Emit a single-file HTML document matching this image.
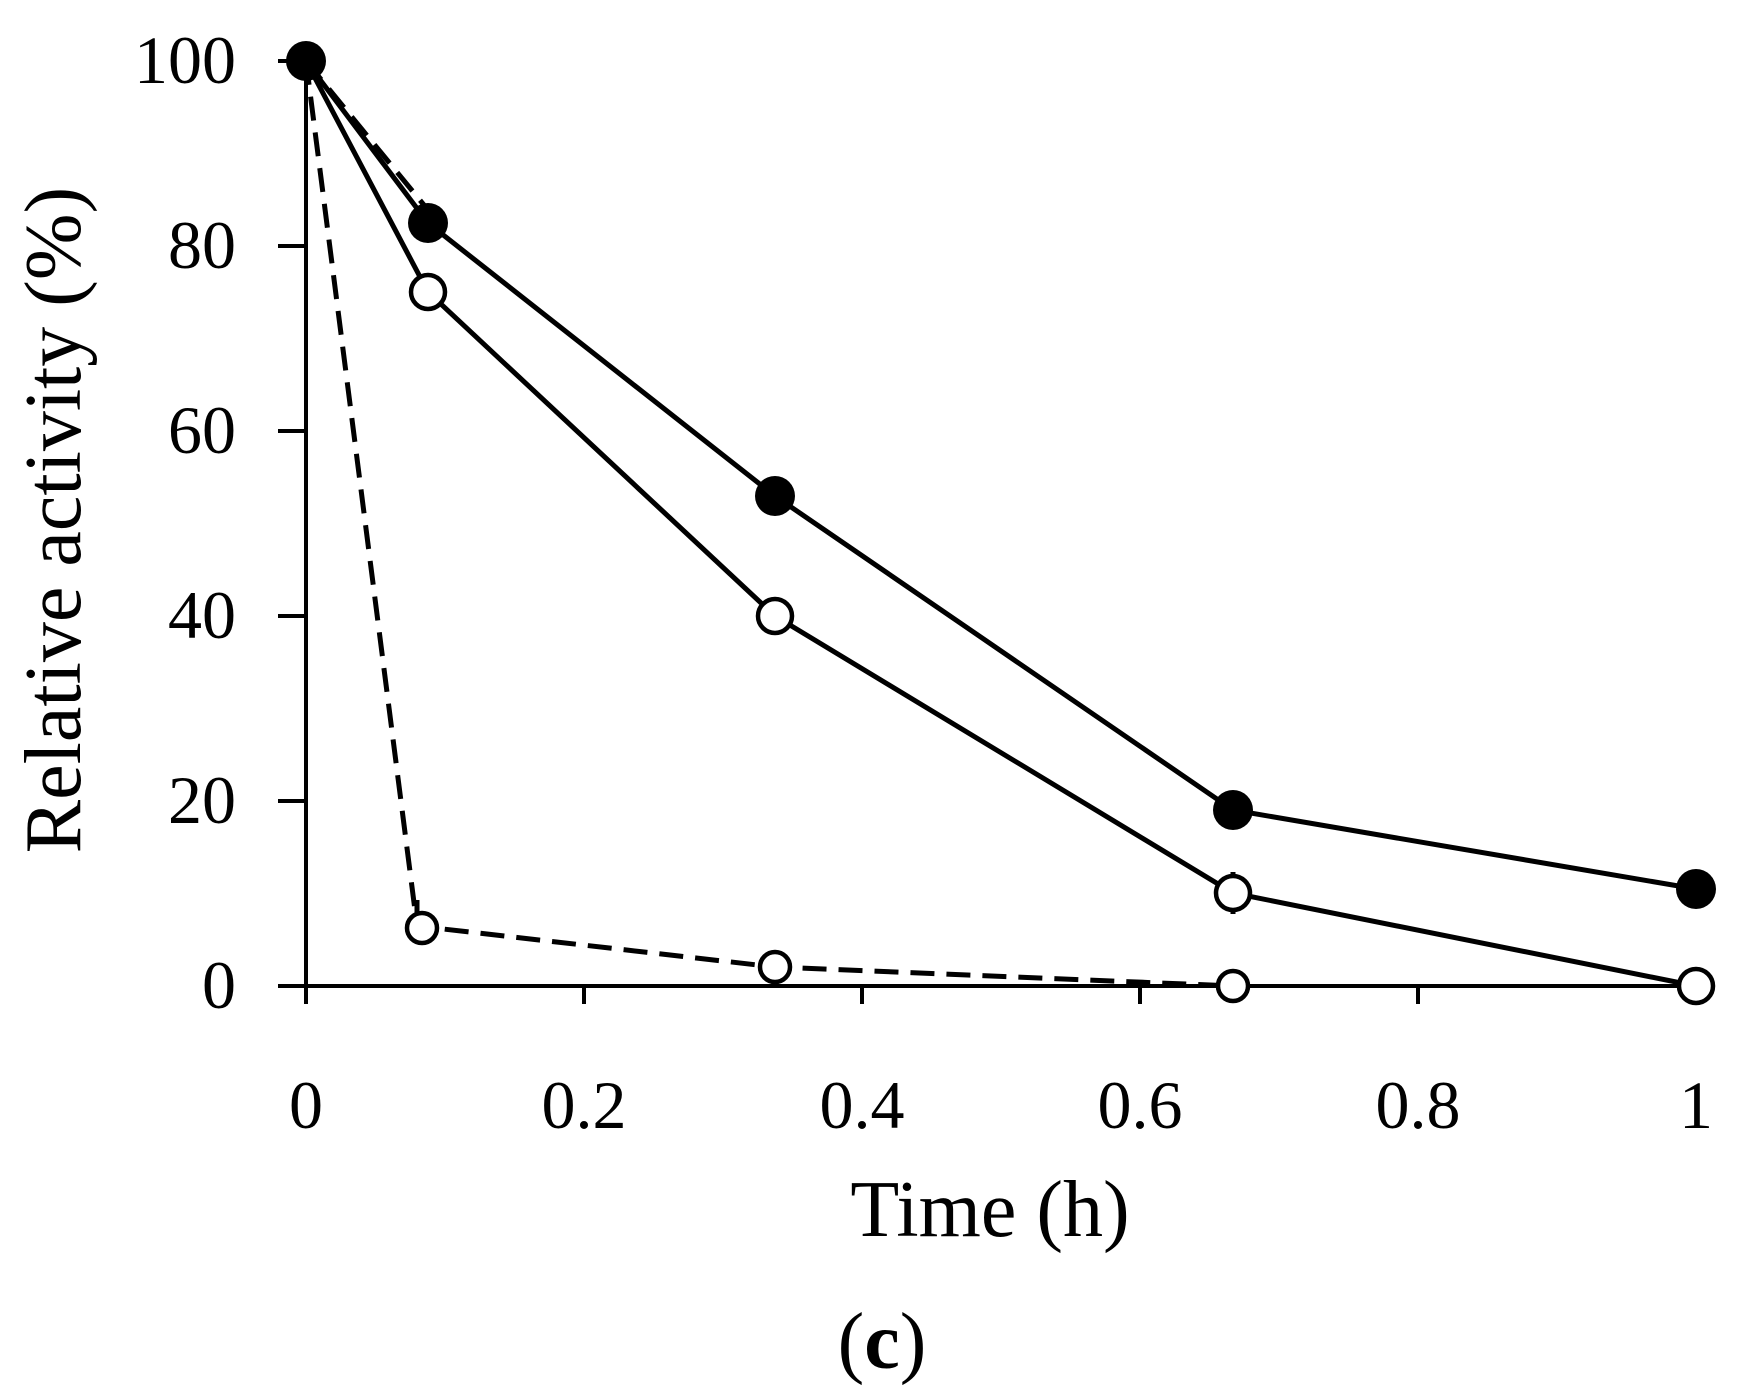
<!DOCTYPE html>
<html><head><style>body{margin:0;background:#fff}</style></head><body>
<svg width="1742" height="1388" viewBox="0 0 1742 1388" xmlns="http://www.w3.org/2000/svg">
<g stroke="#000" stroke-width="4" fill="none">
<line x1="306" y1="61" x2="306" y2="986"/>
<line x1="278" y1="986" x2="1696" y2="986"/>
<g>
<line x1="278" y1="61" x2="306" y2="61"/><line x1="278" y1="246" x2="306" y2="246"/><line x1="278" y1="431" x2="306" y2="431"/><line x1="278" y1="616" x2="306" y2="616"/><line x1="278" y1="801" x2="306" y2="801"/>
<line x1="306" y1="986" x2="306" y2="1004"/><line x1="584" y1="986" x2="584" y2="1004"/><line x1="862" y1="986" x2="862" y2="1004"/><line x1="1140" y1="986" x2="1140" y2="1004"/><line x1="1418" y1="986" x2="1418" y2="1004"/><line x1="1696" y1="986" x2="1696" y2="1004"/>
</g>
</g>
<g stroke="#000" stroke-width="5" fill="none">
<polyline points="306,61 428,223 775,496 1233,810 1696,889"/>
<polyline points="306,61 428,292 775,616 1233,893 1696,986"/>
<polyline stroke-dasharray="24,12" points="306,61 417,926 775,967 1233,986"/>
<polyline stroke-dasharray="24,12" points="306,61 428,210"/>
<line x1="417" y1="900" x2="417" y2="940"/><line x1="1233" y1="872" x2="1233" y2="914"/><line x1="775" y1="482" x2="775" y2="512"/>
</g>
<g fill="#000">
<circle cx="306" cy="61" r="20"/><circle cx="428" cy="223" r="20"/><circle cx="775" cy="496" r="20"/><circle cx="1233" cy="810" r="20"/><circle cx="1696" cy="889" r="20"/>
</g>
<g fill="#fff" stroke="#000" stroke-width="4.5">
<circle cx="428" cy="292" r="17"/><circle cx="775" cy="616" r="17"/><circle cx="1233" cy="893" r="17"/><circle cx="1696" cy="986" r="17"/>
<circle cx="422" cy="928" r="15"/><circle cx="775" cy="967" r="15"/><circle cx="1233" cy="986" r="15"/>
</g>
<g font-family="Liberation Serif, serif" fill="#000">
<g font-size="68" text-anchor="end"><text x="236" y="83">100</text><text x="236" y="268">80</text><text x="236" y="453">60</text><text x="236" y="638">40</text><text x="236" y="823">20</text><text x="236" y="1008">0</text></g>
<g font-size="68" text-anchor="middle"><text x="306" y="1128">0</text><text x="584" y="1128">0.2</text><text x="862" y="1128">0.4</text><text x="1140" y="1128">0.6</text><text x="1418" y="1128">0.8</text><text x="1696" y="1128">1</text></g>
<g font-size="80" text-anchor="middle">
<text x="990" y="1236">Time (h)</text>
<text x="882" y="1368">(<tspan font-weight="bold">c</tspan>)</text>
<text transform="translate(80,520) rotate(-90)">Relative activity (%)</text></g>
</g>
</svg>
</body></html>
